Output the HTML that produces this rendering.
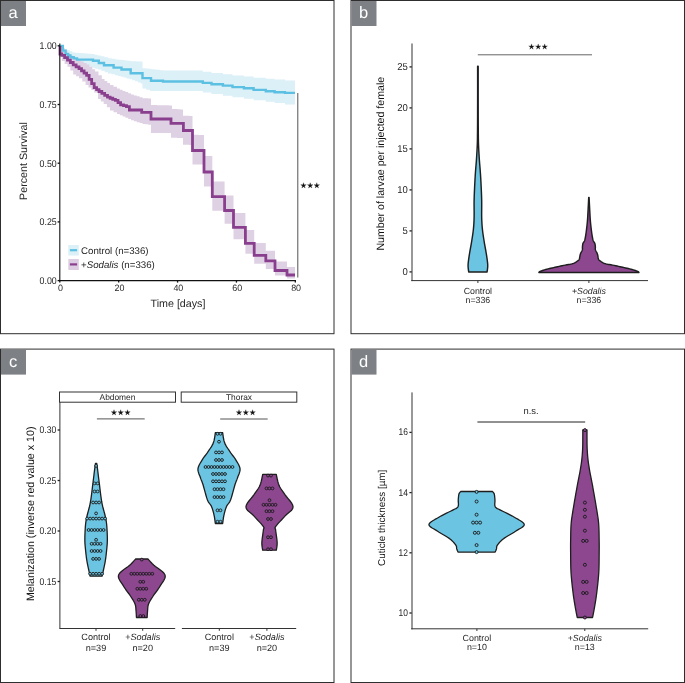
<!DOCTYPE html>
<html><head><meta charset="utf-8"><style>
html,body{margin:0;padding:0;background:#fff;}
svg{display:block;font-family:"Liberation Sans", sans-serif;will-change:transform;}
text{text-rendering:geometricPrecision;}
</style></head><body>
<svg width="685" height="683" viewBox="0 0 685 683">
<rect x="0" y="0" width="685" height="683" fill="#fff"/>
<rect x="0.5" y="0.5" width="333.5" height="333.2" fill="none" stroke="#2e2e2e" stroke-width="1"/>
<rect x="1.0" y="1.0" width="25" height="25" fill="#7d8085"/>
<text x="13.2" y="18.3" font-size="16.5" text-anchor="middle" fill="#ffffff">a</text>
<rect x="351" y="0.5" width="333.5" height="333.2" fill="none" stroke="#2e2e2e" stroke-width="1"/>
<rect x="351.5" y="1.0" width="25" height="25" fill="#7d8085"/>
<text x="363.7" y="18.3" font-size="16.5" text-anchor="middle" fill="#ffffff">b</text>
<rect x="0.5" y="349.1" width="333.5" height="333.4" fill="none" stroke="#2e2e2e" stroke-width="1"/>
<rect x="1.0" y="349.6" width="25" height="25" fill="#7d8085"/>
<text x="13.2" y="366.90000000000003" font-size="16.5" text-anchor="middle" fill="#ffffff">c</text>
<rect x="351" y="349.1" width="333.5" height="333.4" fill="none" stroke="#2e2e2e" stroke-width="1"/>
<rect x="351.5" y="349.6" width="25" height="25" fill="#7d8085"/>
<text x="363.7" y="366.90000000000003" font-size="16.5" text-anchor="middle" fill="#ffffff">d</text>
<polygon points="60.00,46.00 61.80,46.00 61.80,47.70 64.42,47.70 64.42,48.90 67.05,48.90 67.05,50.10 69.67,50.10 69.67,51.30 72.30,51.30 72.30,52.50 75.47,52.50 75.47,52.73 78.63,52.73 78.63,52.97 81.80,52.97 81.80,53.20 84.97,53.20 84.97,53.43 88.13,53.43 88.13,53.67 91.30,53.67 91.30,53.90 94.50,53.90 94.50,54.70 97.70,54.70 97.70,55.50 100.90,55.50 100.90,56.30 104.45,56.30 104.45,57.25 108.00,57.25 108.00,58.20 111.70,58.20 111.70,58.80 115.40,58.80 115.40,59.40 118.46,59.40 118.46,59.76 121.52,59.76 121.52,60.12 124.58,60.12 124.58,60.48 127.64,60.48 127.64,60.84 130.70,60.84 130.70,61.20 133.65,61.20 133.65,61.33 136.60,61.33 136.60,61.45 139.55,61.45 139.55,61.58 142.50,61.58 142.50,61.70 142.50,68.20 145.43,68.20 145.43,68.53 148.36,68.53 148.36,68.86 151.29,68.86 151.29,69.19 154.21,69.19 154.21,69.51 157.14,69.51 157.14,69.84 160.07,69.84 160.07,70.17 163.00,70.17 163.00,70.50 163.00,70.60 202.80,70.60 202.80,71.80 211.50,71.80 211.50,73.00 222.90,73.00 222.90,74.20 232.50,74.20 232.50,75.40 243.90,75.40 243.90,76.50 253.60,76.50 253.60,77.70 265.80,77.70 265.80,78.70 274.60,78.70 274.60,79.60 285.00,79.60 285.00,80.60 295.00,80.60 295.00,104.60 285.00,104.60 285.00,103.10 274.60,103.10 274.60,101.70 265.80,101.70 265.80,100.20 253.60,100.20 253.60,98.70 243.90,98.70 243.90,97.20 232.50,97.20 232.50,95.70 222.90,95.70 222.90,94.10 211.50,94.10 211.50,92.60 202.80,92.60 202.80,91.10 150.00,91.10 150.00,91.00 150.00,89.80 146.25,89.80 146.25,88.60 142.50,88.60 142.50,83.50 140.80,83.50 140.80,82.42 137.95,82.42 137.95,81.35 135.10,81.35 135.10,80.28 132.25,80.28 132.25,79.20 129.40,79.20 129.40,78.40 126.52,78.40 126.52,77.60 123.64,77.60 123.64,76.80 120.76,76.80 120.76,76.00 117.88,76.00 117.88,75.20 115.00,75.20 115.00,74.30 111.50,74.30 111.50,73.40 108.00,73.40 108.00,72.13 104.67,72.13 104.67,70.87 101.33,70.87 101.33,69.60 98.00,69.60 98.00,68.65 95.15,68.65 95.15,67.70 92.30,67.70 92.30,66.75 89.45,66.75 89.45,65.80 86.60,65.80 86.60,64.85 83.50,64.85 83.50,63.90 80.40,63.90 80.40,62.95 77.30,62.95 77.30,62.00 74.20,62.00 74.20,59.85 71.58,59.85 71.58,57.70 68.95,57.70 68.95,55.55 66.33,55.55 66.33,53.40 63.70,53.40 63.70,47.00 60.00,47.00" fill="#dcf0f8"/>
<polygon points="60.00,46.00 61.80,46.00 61.80,47.70 64.65,47.70 64.65,50.55 67.50,50.55 67.50,53.40 70.03,53.40 70.03,55.17 72.57,55.17 72.57,56.93 75.10,56.93 75.10,58.70 77.97,58.70 77.97,60.12 80.85,60.12 80.85,61.55 83.72,61.55 83.72,62.98 86.60,62.98 86.60,64.40 89.43,64.40 89.43,66.77 92.27,66.77 92.27,69.13 95.10,69.13 95.10,71.50 98.45,71.50 98.45,75.30 101.80,75.30 101.80,79.10 104.53,79.10 104.53,81.07 107.27,81.07 107.27,83.03 110.00,83.03 110.00,85.00 113.50,85.00 113.50,86.75 117.00,86.75 117.00,88.50 119.80,88.50 119.80,89.70 122.60,89.70 122.60,90.90 125.40,90.90 125.40,92.10 128.20,92.10 128.20,93.30 131.00,93.30 131.00,94.50 133.88,94.50 133.88,95.42 136.75,95.42 136.75,96.35 139.62,96.35 139.62,97.28 142.50,97.28 142.50,98.20 145.33,98.20 145.33,98.30 148.17,98.30 148.17,98.40 151.00,98.40 151.00,98.50 151.00,105.00 154.00,105.00 154.00,105.07 157.00,105.07 157.00,105.14 160.00,105.14 160.00,105.21 163.00,105.21 163.00,105.29 166.00,105.29 166.00,105.36 169.00,105.36 169.00,105.43 172.00,105.43 172.00,105.50 172.00,109.00 174.75,109.00 174.75,109.12 177.50,109.12 177.50,109.25 180.25,109.25 180.25,109.38 183.00,109.38 183.00,109.50 183.00,115.80 186.17,115.80 186.17,115.87 189.33,115.87 189.33,115.93 192.50,115.93 192.50,116.00 192.50,134.80 195.38,134.80 195.38,134.85 198.25,134.85 198.25,134.90 201.12,134.90 201.12,134.95 204.00,134.95 204.00,135.00 204.00,156.00 212.30,156.00 212.30,181.50 224.60,181.50 224.60,195.40 233.50,195.40 233.50,213.00 245.40,213.00 245.40,230.00 254.20,230.00 254.20,243.00 265.80,243.00 265.80,250.80 275.00,250.80 275.00,261.50 287.00,261.50 287.00,267.00 295.00,267.00 295.00,278.50 287.00,278.50 287.00,275.40 275.00,275.40 275.00,268.90 265.80,268.90 265.80,263.80 254.20,263.80 254.20,253.80 245.40,253.80 245.40,239.20 233.50,239.20 233.50,223.80 224.60,223.80 224.60,210.80 212.30,210.80 212.30,186.40 204.00,186.40 204.00,164.40 192.50,164.40 192.50,145.00 192.50,144.90 189.33,144.90 189.33,144.80 186.17,144.80 186.17,144.70 183.00,144.70 183.00,138.00 183.00,137.95 180.00,137.95 180.00,137.90 177.00,137.90 177.00,137.85 174.00,137.85 174.00,137.80 171.00,137.80 171.00,133.00 151.00,133.00 151.00,125.00 151.00,124.67 148.17,124.67 148.17,124.33 145.33,124.33 145.33,124.00 142.50,124.00 142.50,123.08 139.62,123.08 139.62,122.15 136.75,122.15 136.75,121.22 133.88,121.22 133.88,120.30 131.00,120.30 131.00,119.04 128.20,119.04 128.20,117.78 125.40,117.78 125.40,116.52 122.60,116.52 122.60,115.26 119.80,115.26 119.80,114.00 117.00,114.00 117.00,112.25 113.50,112.25 113.50,110.50 110.00,110.50 110.00,107.20 106.85,107.20 106.85,103.90 103.70,103.90 103.70,101.50 100.85,101.50 100.85,99.10 98.00,99.10 98.00,92.50 94.20,92.50 94.20,89.97 91.33,89.97 91.33,87.43 88.47,87.43 88.47,84.90 85.60,84.90 85.60,81.55 82.30,81.55 82.30,78.20 79.00,78.20 79.00,76.30 76.10,76.30 76.10,74.40 73.20,74.40 73.20,70.60 70.35,70.60 70.35,66.80 67.50,66.80 67.50,63.90 64.65,63.90 64.65,61.00 61.80,61.00 61.80,55.00 60.00,55.00 60.00,46.00" fill="#dccde2" fill-opacity="0.92"/>
<polyline points="60.00,46.00 62.80,46.00 62.80,50.60 65.60,50.60 65.60,53.90 68.00,53.90 68.00,55.55 70.40,55.55 70.40,57.20 73.70,57.20 73.70,58.40 77.00,58.40 77.00,59.60 91.30,59.60 93.00,59.60 93.00,59.80 93.00,60.80 98.80,60.80 98.80,63.00 104.00,63.00 104.00,65.30 113.60,65.30 113.60,67.60 121.50,67.60 121.50,69.50 130.70,69.50 130.70,73.20 142.50,73.20 142.50,78.10 151.00,78.10 151.00,80.70 163.00,80.70 163.00,81.50 202.80,81.50 202.80,82.90 211.50,82.90 211.50,84.30 222.90,84.30 222.90,85.60 232.50,85.60 232.50,87.10 243.90,87.10 243.90,88.20 253.60,88.20 253.60,89.90 265.80,89.90 265.80,91.20 274.60,91.20 274.60,92.20 285.00,92.20 285.00,92.90 295.00,92.90" fill="none" stroke="#5cc0e2" stroke-width="2.4" stroke-linejoin="miter"/>
<polyline points="60.00,46.00 60.00,54.00 61.80,54.00 61.80,55.30 64.65,55.30 64.65,57.70 67.50,57.70 67.50,60.10 70.35,60.10 70.35,62.50 73.20,62.50 73.20,64.90 76.10,64.90 76.10,66.80 79.00,66.80 79.00,68.70 81.53,68.70 81.53,70.90 84.07,70.90 84.07,73.10 86.60,73.10 86.60,75.30 89.13,75.30 89.13,79.43 91.67,79.43 91.67,83.57 94.20,83.57 94.20,87.70 96.60,87.70 96.60,89.60 99.00,89.60 99.00,91.50 101.83,91.50 101.83,93.40 104.67,93.40 104.67,95.30 107.50,95.30 107.50,97.20 110.13,97.20 110.13,98.27 112.77,98.27 112.77,99.33 115.40,99.33 115.40,100.40 118.00,100.40 118.00,102.60 120.60,102.60 120.60,104.80 123.53,104.80 123.53,105.67 126.47,105.67 126.47,106.53 129.40,106.53 129.40,107.40 129.40,110.00 141.70,110.00 141.70,112.40 151.00,112.40 151.00,119.00 171.00,119.00 171.00,123.40 183.40,123.40 183.40,130.50 192.50,130.50 192.50,150.50 204.00,150.50 204.00,172.00 212.30,172.00 212.30,196.60 224.60,196.60 224.60,210.50 233.50,210.50 233.50,227.40 245.40,227.40 245.40,243.40 254.20,243.40 254.20,255.40 265.80,255.40 265.80,260.80 275.00,260.80 275.00,270.50 287.00,270.50 287.00,275.00 295.00,275.00" fill="none" stroke="#8a3f8e" stroke-width="2.8" stroke-linejoin="miter"/>
<line x1="59.8" y1="43.6" x2="59.8" y2="281.1" stroke="#111" stroke-width="1.1"/>
<line x1="59.3" y1="280.6" x2="296" y2="280.6" stroke="#111" stroke-width="1.1"/>
<line x1="57.6" y1="45.80000000000001" x2="59.8" y2="45.80000000000001" stroke="#111" stroke-width="1.3"/>
<text transform="translate(56.70 49.10) scale(0.9000 1)" x="0" y="0" font-size="9.80" text-anchor="end" fill="#262626">1.00</text>
<line x1="57.6" y1="104.5" x2="59.8" y2="104.5" stroke="#111" stroke-width="1.3"/>
<text transform="translate(56.70 107.80) scale(0.9000 1)" x="0" y="0" font-size="9.80" text-anchor="end" fill="#262626">0.75</text>
<line x1="57.6" y1="163.20000000000002" x2="59.8" y2="163.20000000000002" stroke="#111" stroke-width="1.3"/>
<text transform="translate(56.70 166.50) scale(0.9000 1)" x="0" y="0" font-size="9.80" text-anchor="end" fill="#262626">0.50</text>
<line x1="57.6" y1="221.90000000000003" x2="59.8" y2="221.90000000000003" stroke="#111" stroke-width="1.3"/>
<text transform="translate(56.70 225.20) scale(0.9000 1)" x="0" y="0" font-size="9.80" text-anchor="end" fill="#262626">0.25</text>
<line x1="57.6" y1="280.6" x2="59.8" y2="280.6" stroke="#111" stroke-width="1.3"/>
<text transform="translate(56.70 283.90) scale(0.9000 1)" x="0" y="0" font-size="9.80" text-anchor="end" fill="#262626">0.00</text>
<line x1="59.8" y1="280.6" x2="59.8" y2="282.6" stroke="#111" stroke-width="1.3"/>
<text transform="translate(60.60 290.70) scale(0.9700 1)" x="0" y="0" font-size="9.20" text-anchor="middle" fill="#262626">0</text>
<line x1="118.67999999999999" y1="280.6" x2="118.67999999999999" y2="282.6" stroke="#111" stroke-width="1.3"/>
<text transform="translate(119.48 290.70) scale(0.9700 1)" x="0" y="0" font-size="9.20" text-anchor="middle" fill="#262626">20</text>
<line x1="177.56" y1="280.6" x2="177.56" y2="282.6" stroke="#111" stroke-width="1.3"/>
<text transform="translate(178.36 290.70) scale(0.9700 1)" x="0" y="0" font-size="9.20" text-anchor="middle" fill="#262626">40</text>
<line x1="236.44" y1="280.6" x2="236.44" y2="282.6" stroke="#111" stroke-width="1.3"/>
<text transform="translate(237.24 290.70) scale(0.9700 1)" x="0" y="0" font-size="9.20" text-anchor="middle" fill="#262626">60</text>
<line x1="295.32" y1="280.6" x2="295.32" y2="282.6" stroke="#111" stroke-width="1.3"/>
<text transform="translate(296.12 290.70) scale(0.9700 1)" x="0" y="0" font-size="9.20" text-anchor="middle" fill="#262626">80</text>
<text x="27.2" y="161" font-size="10.7" text-anchor="middle" fill="#262626" transform="rotate(-90 27.2 161)">Percent Survival</text>
<text x="178" y="307.4" font-size="10.7" text-anchor="middle" fill="#262626">Time [days]</text>
<line x1="297.8" y1="93" x2="297.8" y2="277.5" stroke="#555" stroke-width="1"/>
<polygon points="303.50,182.70 304.12,184.75 306.26,184.70 304.50,185.92 305.20,187.95 303.50,186.65 301.80,187.95 302.50,185.92 300.74,184.70 302.88,184.75" fill="#111" stroke="#111" stroke-width="0.25" stroke-linejoin="round"/>
<polygon points="310.20,182.70 310.82,184.75 312.96,184.70 311.20,185.92 311.90,187.95 310.20,186.65 308.50,187.95 309.20,185.92 307.44,184.70 309.58,184.75" fill="#111" stroke="#111" stroke-width="0.25" stroke-linejoin="round"/>
<polygon points="316.80,182.70 317.42,184.75 319.56,184.70 317.80,185.92 318.50,187.95 316.80,186.65 315.10,187.95 315.80,185.92 314.04,184.70 316.18,184.75" fill="#111" stroke="#111" stroke-width="0.25" stroke-linejoin="round"/>
<rect x="68.3" y="245" width="10.5" height="10.5" fill="#dcf0f8"/>
<line x1="69.9" y1="250.2" x2="77.1" y2="250.2" stroke="#5cc0e2" stroke-width="2.2"/>
<rect x="68.3" y="259" width="10.5" height="11" fill="#dccde2"/>
<line x1="69.9" y1="264.4" x2="77.1" y2="264.4" stroke="#8a3f8e" stroke-width="2.2"/>
<text x="81" y="253.8" font-size="9.7" text-anchor="start" fill="#262626">Control (n=336)</text>
<text x="81" y="267.6" font-size="9.7" text-anchor="start" fill="#262626">+<tspan font-style="italic">Sodalis</tspan> (n=336)</text>
<line x1="412" y1="43.5" x2="412" y2="281.1" stroke="#333333" stroke-width="1"/>
<line x1="411.3" y1="280.6" x2="648" y2="280.6" stroke="#333333" stroke-width="1"/>
<line x1="409.5" y1="271.9" x2="411.8" y2="271.9" stroke="#222" stroke-width="1.3"/>
<text transform="translate(407.90 275.10) scale(0.9500 1)" x="0" y="0" font-size="10.00" text-anchor="end" fill="#262626">0</text>
<line x1="409.5" y1="230.89999999999998" x2="411.8" y2="230.89999999999998" stroke="#222" stroke-width="1.3"/>
<text transform="translate(407.90 234.10) scale(0.9500 1)" x="0" y="0" font-size="10.00" text-anchor="end" fill="#262626">5</text>
<line x1="409.5" y1="189.89999999999998" x2="411.8" y2="189.89999999999998" stroke="#222" stroke-width="1.3"/>
<text transform="translate(407.90 193.10) scale(0.9500 1)" x="0" y="0" font-size="10.00" text-anchor="end" fill="#262626">10</text>
<line x1="409.5" y1="148.89999999999998" x2="411.8" y2="148.89999999999998" stroke="#222" stroke-width="1.3"/>
<text transform="translate(407.90 152.10) scale(0.9500 1)" x="0" y="0" font-size="10.00" text-anchor="end" fill="#262626">15</text>
<line x1="409.5" y1="107.89999999999998" x2="411.8" y2="107.89999999999998" stroke="#222" stroke-width="1.3"/>
<text transform="translate(407.90 111.10) scale(0.9500 1)" x="0" y="0" font-size="10.00" text-anchor="end" fill="#262626">20</text>
<line x1="409.5" y1="66.9" x2="411.8" y2="66.9" stroke="#222" stroke-width="1.3"/>
<text transform="translate(407.90 70.10) scale(0.9500 1)" x="0" y="0" font-size="10.00" text-anchor="end" fill="#262626">25</text>
<line x1="477.9" y1="280.6" x2="477.9" y2="283" stroke="#333333" stroke-width="1"/>
<line x1="588.9" y1="280.6" x2="588.9" y2="283" stroke="#333333" stroke-width="1"/>
<text x="384.5" y="163.7" font-size="10.6" text-anchor="middle" fill="#111" transform="rotate(-90 384.5 163.7)">Number of larvae per injected female</text>
<text x="477.9" y="293.8" font-size="8.8" text-anchor="middle" fill="#262626">Control</text>
<text x="477.9" y="303.1" font-size="8.8" text-anchor="middle" fill="#262626">n=336</text>
<text x="588.9" y="293.8" font-size="8.8" text-anchor="middle" fill="#262626">+<tspan font-style="italic">Sodalis</tspan></text>
<text x="588.9" y="303.1" font-size="8.8" text-anchor="middle" fill="#262626">n=336</text>
<line x1="477.8" y1="54.8" x2="592" y2="54.8" stroke="#666" stroke-width="1"/>
<polygon points="531.50,43.90 532.12,45.95 534.26,45.90 532.50,47.12 533.20,49.15 531.50,47.85 529.80,49.15 530.50,47.12 528.74,45.90 530.88,45.95" fill="#111" stroke="#111" stroke-width="0.25" stroke-linejoin="round"/>
<polygon points="538.20,43.90 538.82,45.95 540.96,45.90 539.20,47.12 539.90,49.15 538.20,47.85 536.50,49.15 537.20,47.12 535.44,45.90 537.58,45.95" fill="#111" stroke="#111" stroke-width="0.25" stroke-linejoin="round"/>
<polygon points="544.70,43.90 545.32,45.95 547.46,45.90 545.70,47.12 546.40,49.15 544.70,47.85 543.00,49.15 543.70,47.12 541.94,45.90 544.08,45.95" fill="#111" stroke="#111" stroke-width="0.25" stroke-linejoin="round"/>
<polygon points="478.18,66.30 478.18,70.01 478.18,75.17 478.17,81.27 478.17,87.79 478.17,94.21 478.18,100.00 478.19,105.39 478.20,110.83 478.21,116.17 478.23,121.25 478.25,125.91 478.28,130.00 478.31,133.37 478.33,136.11 478.36,138.44 478.40,140.56 478.45,142.67 478.53,145.00 478.64,147.56 478.77,150.19 478.92,152.81 479.08,155.37 479.23,157.79 479.38,160.00 479.52,161.94 479.65,163.67 479.79,165.25 479.92,166.78 480.05,168.33 480.18,170.00 480.30,171.68 480.42,173.30 480.53,174.94 480.64,176.70 480.76,178.69 480.88,181.00 481.02,183.73 481.17,186.81 481.32,190.12 481.47,193.52 481.59,196.86 481.68,200.00 481.72,203.01 481.71,206.00 481.69,208.94 481.66,211.78 481.65,214.48 481.68,217.00 481.74,219.29 481.82,221.37 481.92,223.31 482.05,225.19 482.20,227.06 482.38,229.00 482.60,231.00 482.86,233.00 483.14,235.00 483.45,237.00 483.76,239.00 484.08,241.00 484.41,243.01 484.77,245.04 485.14,247.06 485.51,249.07 485.86,251.06 486.18,253.00 486.49,254.95 486.79,256.93 487.08,258.88 487.34,260.74 487.54,262.47 487.68,264.00 487.74,265.34 487.72,266.52 487.65,267.56 487.55,268.48 487.46,269.29 487.38,270.00 487.31,270.59 487.24,271.04 487.16,271.38 487.09,271.63 487.02,271.83 486.98,272.00 468.82,272.00 468.78,271.83 468.71,271.63 468.64,271.38 468.56,271.04 468.49,270.59 468.42,270.00 468.34,269.29 468.25,268.48 468.15,267.56 468.08,266.52 468.06,265.34 468.12,264.00 468.26,262.47 468.46,260.74 468.72,258.88 469.01,256.93 469.31,254.95 469.62,253.00 469.94,251.06 470.29,249.07 470.66,247.06 471.03,245.04 471.39,243.01 471.72,241.00 472.04,239.00 472.35,237.00 472.66,235.00 472.94,233.00 473.20,231.00 473.42,229.00 473.60,227.06 473.75,225.19 473.88,223.31 473.98,221.37 474.06,219.29 474.12,217.00 474.15,214.48 474.14,211.78 474.11,208.94 474.09,206.00 474.08,203.01 474.12,200.00 474.21,196.86 474.33,193.52 474.48,190.12 474.63,186.81 474.78,183.73 474.92,181.00 475.04,178.69 475.16,176.70 475.27,174.94 475.38,173.30 475.50,171.68 475.62,170.00 475.75,168.33 475.88,166.78 476.01,165.25 476.15,163.67 476.28,161.94 476.42,160.00 476.57,157.79 476.72,155.37 476.88,152.81 477.03,150.19 477.16,147.56 477.27,145.00 477.35,142.67 477.40,140.56 477.44,138.44 477.47,136.11 477.49,133.37 477.52,130.00 477.55,125.91 477.57,121.25 477.59,116.17 477.60,110.83 477.61,105.39 477.62,100.00 477.63,94.21 477.63,87.79 477.63,81.27 477.62,75.17 477.62,70.01 477.62,66.30" fill="#6bc4e2" stroke="#1e1e1e" stroke-width="1.45" stroke-linejoin="round"/>
<polygon points="589.10,197.50 589.16,199.01 589.27,201.13 589.39,203.62 589.53,206.26 589.66,208.80 589.78,211.00 589.88,212.87 589.97,214.59 590.05,216.22 590.15,217.80 590.25,219.37 590.38,221.00 590.54,222.71 590.72,224.48 590.91,226.25 591.11,227.96 591.30,229.56 591.48,231.00 591.64,232.25 591.79,233.37 591.94,234.38 592.08,235.30 592.23,236.16 592.38,237.00 592.54,237.80 592.69,238.54 592.84,239.22 593.01,239.85 593.18,240.44 593.38,241.00 593.61,241.49 593.88,241.90 594.16,242.26 594.44,242.63 594.68,243.03 594.88,243.50 595.03,244.08 595.14,244.75 595.23,245.45 595.29,246.14 595.34,246.77 595.38,247.30 595.39,247.70 595.36,248.01 595.32,248.26 595.28,248.49 595.26,248.72 595.28,249.00 595.35,249.32 595.44,249.64 595.56,249.98 595.69,250.32 595.84,250.66 595.98,251.00 596.13,251.33 596.30,251.67 596.48,252.00 596.66,252.33 596.83,252.67 596.98,253.00 597.12,253.32 597.24,253.63 597.36,253.94 597.47,254.27 597.58,254.61 597.68,255.00 597.77,255.45 597.86,255.95 597.94,256.48 598.02,257.00 598.10,257.48 598.18,257.90 598.25,258.24 598.31,258.53 598.36,258.79 598.43,259.02 598.53,259.25 598.68,259.50 598.85,259.74 599.03,259.97 599.24,260.19 599.50,260.43 599.84,260.69 600.28,261.00 600.79,261.37 601.35,261.78 601.99,262.22 602.73,262.67 603.62,263.11 604.68,263.50 605.98,263.85 607.50,264.18 609.17,264.49 610.89,264.79 612.59,265.09 614.18,265.40 615.67,265.72 617.13,266.03 618.57,266.35 619.98,266.67 621.39,266.98 622.78,267.30 624.18,267.62 625.59,267.93 626.98,268.25 628.34,268.57 629.65,268.88 630.88,269.20 632.07,269.52 633.25,269.86 634.37,270.19 635.41,270.51 636.32,270.82 637.08,271.10 637.66,271.37 638.07,271.63 638.37,271.87 638.58,272.09 638.74,272.27 638.88,272.40 538.92,272.40 539.06,272.27 539.22,272.09 539.43,271.87 539.73,271.63 540.14,271.37 540.72,271.10 541.48,270.82 542.39,270.51 543.43,270.19 544.55,269.86 545.73,269.52 546.92,269.20 548.15,268.88 549.46,268.57 550.82,268.25 552.21,267.93 553.62,267.62 555.02,267.30 556.41,266.98 557.82,266.67 559.23,266.35 560.67,266.03 562.13,265.72 563.62,265.40 565.21,265.09 566.91,264.79 568.63,264.49 570.30,264.18 571.82,263.85 573.12,263.50 574.18,263.11 575.07,262.67 575.81,262.22 576.45,261.78 577.01,261.37 577.52,261.00 577.96,260.69 578.30,260.43 578.56,260.19 578.77,259.97 578.95,259.74 579.12,259.50 579.27,259.25 579.37,259.02 579.44,258.79 579.49,258.53 579.55,258.24 579.62,257.90 579.70,257.48 579.78,257.00 579.86,256.48 579.94,255.95 580.03,255.45 580.12,255.00 580.22,254.61 580.33,254.27 580.44,253.94 580.56,253.63 580.68,253.32 580.82,253.00 580.97,252.67 581.14,252.33 581.32,252.00 581.50,251.67 581.67,251.33 581.82,251.00 581.96,250.66 582.11,250.32 582.24,249.98 582.36,249.64 582.45,249.32 582.52,249.00 582.54,248.72 582.52,248.49 582.48,248.26 582.44,248.01 582.41,247.70 582.42,247.30 582.46,246.77 582.51,246.14 582.57,245.45 582.66,244.75 582.77,244.08 582.92,243.50 583.12,243.03 583.36,242.63 583.64,242.26 583.92,241.90 584.19,241.49 584.42,241.00 584.62,240.44 584.79,239.85 584.96,239.22 585.11,238.54 585.26,237.80 585.42,237.00 585.57,236.16 585.72,235.30 585.86,234.38 586.01,233.37 586.16,232.25 586.32,231.00 586.50,229.56 586.69,227.96 586.89,226.25 587.08,224.48 587.26,222.71 587.42,221.00 587.55,219.37 587.65,217.80 587.75,216.22 587.83,214.59 587.92,212.87 588.02,211.00 588.14,208.80 588.27,206.26 588.41,203.62 588.53,201.13 588.64,199.01 588.70,197.50" fill="#8c478f" stroke="#1e1e1e" stroke-width="1.45" stroke-linejoin="round"/>
<rect x="59.5" y="392" width="116" height="10.2" fill="#fff" stroke="#333" stroke-width="1"/>
<rect x="181.2" y="392" width="115.6" height="10.2" fill="#fff" stroke="#333" stroke-width="1"/>
<text x="117.5" y="400" font-size="8.4" text-anchor="middle" fill="#262626">Abdomen</text>
<text x="239" y="400" font-size="8.4" text-anchor="middle" fill="#262626">Thorax</text>
<line x1="59.9" y1="402.2" x2="59.9" y2="628.5" stroke="#333333" stroke-width="1"/>
<line x1="59.4" y1="628.5" x2="175.2" y2="628.5" stroke="#333333" stroke-width="1"/>
<line x1="181.9" y1="628.5" x2="296.2" y2="628.5" stroke="#333333" stroke-width="1"/>
<line x1="57.6" y1="430.0" x2="59.9" y2="430.0" stroke="#222" stroke-width="1.3"/>
<text transform="translate(56.30 433.00) scale(0.8800 1)" x="0" y="0" font-size="9.80" text-anchor="end" fill="#262626">0.30</text>
<line x1="57.6" y1="480.5" x2="59.9" y2="480.5" stroke="#222" stroke-width="1.3"/>
<text transform="translate(56.30 483.50) scale(0.8800 1)" x="0" y="0" font-size="9.80" text-anchor="end" fill="#262626">0.25</text>
<line x1="57.6" y1="531.0" x2="59.9" y2="531.0" stroke="#222" stroke-width="1.3"/>
<text transform="translate(56.30 534.00) scale(0.8800 1)" x="0" y="0" font-size="9.80" text-anchor="end" fill="#262626">0.20</text>
<line x1="57.6" y1="581.5" x2="59.9" y2="581.5" stroke="#222" stroke-width="1.3"/>
<text transform="translate(56.30 584.50) scale(0.8800 1)" x="0" y="0" font-size="9.80" text-anchor="end" fill="#262626">0.15</text>
<line x1="96" y1="628.5" x2="96" y2="630.8" stroke="#333333" stroke-width="1"/>
<line x1="142.7" y1="628.5" x2="142.7" y2="630.8" stroke="#333333" stroke-width="1"/>
<line x1="219.3" y1="628.5" x2="219.3" y2="630.8" stroke="#333333" stroke-width="1"/>
<line x1="266.9" y1="628.5" x2="266.9" y2="630.8" stroke="#333333" stroke-width="1"/>
<text x="33.6" y="513.8" font-size="10.7" text-anchor="middle" fill="#111" transform="rotate(-90 33.6 513.8)">Melanization (inverse red value x 10)</text>
<text x="96" y="640.3" font-size="9.1" text-anchor="middle" fill="#262626">Control</text>
<text x="96" y="651" font-size="9.1" text-anchor="middle" fill="#262626">n=39</text>
<text x="142.7" y="640.3" font-size="9.1" text-anchor="middle" fill="#262626">+<tspan font-style="italic">Sodalis</tspan></text>
<text x="142.7" y="651" font-size="9.1" text-anchor="middle" fill="#262626">n=20</text>
<text x="219.3" y="640.3" font-size="9.1" text-anchor="middle" fill="#262626">Control</text>
<text x="219.3" y="651" font-size="9.1" text-anchor="middle" fill="#262626">n=39</text>
<text x="266.9" y="640.3" font-size="9.1" text-anchor="middle" fill="#262626">+<tspan font-style="italic">Sodalis</tspan></text>
<text x="266.9" y="651" font-size="9.1" text-anchor="middle" fill="#262626">n=20</text>
<line x1="96.9" y1="418.9" x2="144.7" y2="418.9" stroke="#555" stroke-width="1"/>
<polygon points="114.00,409.70 114.62,411.75 116.76,411.70 115.00,412.92 115.70,414.95 114.00,413.65 112.30,414.95 113.00,412.92 111.24,411.70 113.38,411.75" fill="#111" stroke="#111" stroke-width="0.25" stroke-linejoin="round"/>
<polygon points="120.70,409.70 121.32,411.75 123.46,411.70 121.70,412.92 122.40,414.95 120.70,413.65 119.00,414.95 119.70,412.92 117.94,411.70 120.08,411.75" fill="#111" stroke="#111" stroke-width="0.25" stroke-linejoin="round"/>
<polygon points="127.50,409.70 128.12,411.75 130.26,411.70 128.50,412.92 129.20,414.95 127.50,413.65 125.80,414.95 126.50,412.92 124.74,411.70 126.88,411.75" fill="#111" stroke="#111" stroke-width="0.25" stroke-linejoin="round"/>
<line x1="220.2" y1="419" x2="267.7" y2="419" stroke="#555" stroke-width="1"/>
<polygon points="239.00,409.70 239.62,411.75 241.76,411.70 240.00,412.92 240.70,414.95 239.00,413.65 237.30,414.95 238.00,412.92 236.24,411.70 238.38,411.75" fill="#111" stroke="#111" stroke-width="0.25" stroke-linejoin="round"/>
<polygon points="245.80,409.70 246.42,411.75 248.56,411.70 246.80,412.92 247.50,414.95 245.80,413.65 244.10,414.95 244.80,412.92 243.04,411.70 245.18,411.75" fill="#111" stroke="#111" stroke-width="0.25" stroke-linejoin="round"/>
<polygon points="252.60,409.70 253.22,411.75 255.36,411.70 253.60,412.92 254.30,414.95 252.60,413.65 250.90,414.95 251.60,412.92 249.84,411.70 251.98,411.75" fill="#111" stroke="#111" stroke-width="0.25" stroke-linejoin="round"/>
<polygon points="96.75,463.50 96.84,464.13 96.96,464.94 97.10,465.94 97.26,467.11 97.45,468.47 97.65,470.00 97.87,471.72 98.10,473.63 98.35,475.72 98.62,477.98 98.92,480.41 99.25,483.00 99.61,485.89 99.99,489.11 100.40,492.50 100.83,495.89 101.28,499.11 101.75,502.00 102.26,504.58 102.83,507.00 103.42,509.25 103.99,511.33 104.51,513.25 104.95,515.00 105.30,516.50 105.58,517.74 105.81,518.81 106.00,519.81 106.18,520.84 106.35,522.00 106.51,523.25 106.65,524.52 106.77,525.81 106.87,527.15 106.96,528.54 107.05,530.00 107.13,531.57 107.21,533.26 107.27,535.00 107.32,536.74 107.35,538.43 107.35,540.00 107.32,541.40 107.28,542.67 107.21,543.88 107.11,545.11 106.99,546.46 106.85,548.00 106.68,549.79 106.47,551.78 106.24,553.88 105.99,556.00 105.73,558.07 105.45,560.00 105.14,561.83 104.81,563.62 104.45,565.36 104.09,567.02 103.76,568.58 103.45,570.00 103.17,571.33 102.89,572.58 102.62,573.73 102.39,574.73 102.20,575.57 102.05,576.20 90.15,576.20 90.00,575.57 89.81,574.73 89.57,573.73 89.31,572.58 89.03,571.33 88.75,570.00 88.44,568.58 88.11,567.02 87.75,565.36 87.39,563.62 87.06,561.83 86.75,560.00 86.47,558.07 86.21,556.00 85.96,553.88 85.73,551.78 85.52,549.79 85.35,548.00 85.21,546.46 85.09,545.11 84.99,543.88 84.92,542.67 84.88,541.40 84.85,540.00 84.85,538.43 84.88,536.74 84.92,535.00 84.99,533.26 85.07,531.57 85.15,530.00 85.24,528.54 85.33,527.15 85.43,525.81 85.55,524.52 85.69,523.25 85.85,522.00 86.02,520.84 86.20,519.81 86.39,518.81 86.62,517.74 86.90,516.50 87.25,515.00 87.69,513.25 88.21,511.33 88.78,509.25 89.37,507.00 89.94,504.58 90.45,502.00 90.92,499.11 91.37,495.89 91.80,492.50 92.21,489.11 92.59,485.89 92.95,483.00 93.28,480.41 93.58,477.98 93.85,475.72 94.10,473.63 94.33,471.72 94.55,470.00 94.75,468.47 94.94,467.11 95.10,465.94 95.24,464.94 95.36,464.13 95.45,463.50" fill="#6bc4e2" stroke="#1e1e1e" stroke-width="1.3" stroke-linejoin="round"/>
<circle cx="96.10" cy="465.9" r="1.4" fill="#6bc4e2" stroke="#1a1a1a" stroke-width="0.9"/>
<circle cx="94.60" cy="483.4" r="1.4" fill="#6bc4e2" stroke="#1a1a1a" stroke-width="0.9"/>
<circle cx="97.60" cy="483.4" r="1.4" fill="#6bc4e2" stroke="#1a1a1a" stroke-width="0.9"/>
<circle cx="94.60" cy="491.5" r="1.4" fill="#6bc4e2" stroke="#1a1a1a" stroke-width="0.9"/>
<circle cx="97.60" cy="491.5" r="1.4" fill="#6bc4e2" stroke="#1a1a1a" stroke-width="0.9"/>
<circle cx="93.10" cy="502.5" r="1.4" fill="#6bc4e2" stroke="#1a1a1a" stroke-width="0.9"/>
<circle cx="96.10" cy="502.5" r="1.4" fill="#6bc4e2" stroke="#1a1a1a" stroke-width="0.9"/>
<circle cx="99.10" cy="502.5" r="1.4" fill="#6bc4e2" stroke="#1a1a1a" stroke-width="0.9"/>
<circle cx="96.10" cy="513.4" r="1.4" fill="#6bc4e2" stroke="#1a1a1a" stroke-width="0.9"/>
<circle cx="87.10" cy="518.6" r="1.4" fill="#6bc4e2" stroke="#1a1a1a" stroke-width="0.9"/>
<circle cx="90.10" cy="518.6" r="1.4" fill="#6bc4e2" stroke="#1a1a1a" stroke-width="0.9"/>
<circle cx="93.10" cy="518.6" r="1.4" fill="#6bc4e2" stroke="#1a1a1a" stroke-width="0.9"/>
<circle cx="96.10" cy="518.6" r="1.4" fill="#6bc4e2" stroke="#1a1a1a" stroke-width="0.9"/>
<circle cx="99.10" cy="518.6" r="1.4" fill="#6bc4e2" stroke="#1a1a1a" stroke-width="0.9"/>
<circle cx="102.10" cy="518.6" r="1.4" fill="#6bc4e2" stroke="#1a1a1a" stroke-width="0.9"/>
<circle cx="105.10" cy="518.6" r="1.4" fill="#6bc4e2" stroke="#1a1a1a" stroke-width="0.9"/>
<circle cx="88.60" cy="530" r="1.4" fill="#6bc4e2" stroke="#1a1a1a" stroke-width="0.9"/>
<circle cx="91.60" cy="530" r="1.4" fill="#6bc4e2" stroke="#1a1a1a" stroke-width="0.9"/>
<circle cx="94.60" cy="530" r="1.4" fill="#6bc4e2" stroke="#1a1a1a" stroke-width="0.9"/>
<circle cx="97.60" cy="530" r="1.4" fill="#6bc4e2" stroke="#1a1a1a" stroke-width="0.9"/>
<circle cx="100.60" cy="530" r="1.4" fill="#6bc4e2" stroke="#1a1a1a" stroke-width="0.9"/>
<circle cx="103.60" cy="530" r="1.4" fill="#6bc4e2" stroke="#1a1a1a" stroke-width="0.9"/>
<circle cx="96.10" cy="539.8" r="1.4" fill="#6bc4e2" stroke="#1a1a1a" stroke-width="0.9"/>
<circle cx="91.60" cy="543.8" r="1.4" fill="#6bc4e2" stroke="#1a1a1a" stroke-width="0.9"/>
<circle cx="94.60" cy="543.8" r="1.4" fill="#6bc4e2" stroke="#1a1a1a" stroke-width="0.9"/>
<circle cx="97.60" cy="543.8" r="1.4" fill="#6bc4e2" stroke="#1a1a1a" stroke-width="0.9"/>
<circle cx="100.60" cy="543.8" r="1.4" fill="#6bc4e2" stroke="#1a1a1a" stroke-width="0.9"/>
<circle cx="91.60" cy="551" r="1.4" fill="#6bc4e2" stroke="#1a1a1a" stroke-width="0.9"/>
<circle cx="94.60" cy="551" r="1.4" fill="#6bc4e2" stroke="#1a1a1a" stroke-width="0.9"/>
<circle cx="97.60" cy="551" r="1.4" fill="#6bc4e2" stroke="#1a1a1a" stroke-width="0.9"/>
<circle cx="100.60" cy="551" r="1.4" fill="#6bc4e2" stroke="#1a1a1a" stroke-width="0.9"/>
<circle cx="93.10" cy="558.9" r="1.4" fill="#6bc4e2" stroke="#1a1a1a" stroke-width="0.9"/>
<circle cx="96.10" cy="558.9" r="1.4" fill="#6bc4e2" stroke="#1a1a1a" stroke-width="0.9"/>
<circle cx="99.10" cy="558.9" r="1.4" fill="#6bc4e2" stroke="#1a1a1a" stroke-width="0.9"/>
<circle cx="90.10" cy="573.8" r="1.4" fill="#6bc4e2" stroke="#1a1a1a" stroke-width="0.9"/>
<circle cx="93.10" cy="573.8" r="1.4" fill="#6bc4e2" stroke="#1a1a1a" stroke-width="0.9"/>
<circle cx="96.10" cy="573.8" r="1.4" fill="#6bc4e2" stroke="#1a1a1a" stroke-width="0.9"/>
<circle cx="99.10" cy="573.8" r="1.4" fill="#6bc4e2" stroke="#1a1a1a" stroke-width="0.9"/>
<circle cx="102.10" cy="573.8" r="1.4" fill="#6bc4e2" stroke="#1a1a1a" stroke-width="0.9"/>
<polygon points="147.95,559.00 148.50,559.61 149.22,560.41 150.09,561.38 151.12,562.48 152.30,563.70 153.65,565.00 155.41,566.43 157.62,568.01 160.00,569.71 162.23,571.47 164.02,573.25 165.05,575.00 165.23,576.75 164.77,578.53 163.86,580.33 162.70,582.14 161.46,583.93 160.35,585.70 159.26,587.47 158.04,589.25 156.74,591.02 155.45,592.75 154.23,594.42 153.15,596.00 152.19,597.48 151.29,598.87 150.46,600.21 149.72,601.49 149.08,602.75 148.55,604.00 148.17,605.23 147.93,606.43 147.79,607.59 147.71,608.74 147.64,609.87 147.55,611.00 147.44,612.19 147.36,613.44 147.29,614.69 147.23,615.83 147.19,616.80 147.15,617.50 136.45,617.50 136.41,616.80 136.37,615.83 136.31,614.69 136.24,613.44 136.16,612.19 136.05,611.00 135.96,609.87 135.89,608.74 135.81,607.59 135.67,606.43 135.43,605.23 135.05,604.00 134.52,602.75 133.88,601.49 133.14,600.21 132.31,598.87 131.41,597.48 130.45,596.00 129.37,594.42 128.15,592.75 126.86,591.02 125.56,589.25 124.34,587.47 123.25,585.70 122.14,583.93 120.90,582.14 119.74,580.33 118.83,578.53 118.37,576.75 118.55,575.00 119.58,573.25 121.37,571.47 123.60,569.71 125.98,568.01 128.19,566.43 129.95,565.00 131.30,563.70 132.48,562.48 133.51,561.38 134.38,560.41 135.10,559.61 135.65,559.00" fill="#8c478f" stroke="#1e1e1e" stroke-width="1.3" stroke-linejoin="round"/>
<circle cx="141.80" cy="559.6" r="1.4" fill="#8c478f" stroke="#1a1a1a" stroke-width="0.9"/>
<circle cx="131.30" cy="573.8" r="1.4" fill="#8c478f" stroke="#1a1a1a" stroke-width="0.9"/>
<circle cx="134.30" cy="573.8" r="1.4" fill="#8c478f" stroke="#1a1a1a" stroke-width="0.9"/>
<circle cx="137.30" cy="573.8" r="1.4" fill="#8c478f" stroke="#1a1a1a" stroke-width="0.9"/>
<circle cx="140.30" cy="573.8" r="1.4" fill="#8c478f" stroke="#1a1a1a" stroke-width="0.9"/>
<circle cx="143.30" cy="573.8" r="1.4" fill="#8c478f" stroke="#1a1a1a" stroke-width="0.9"/>
<circle cx="146.30" cy="573.8" r="1.4" fill="#8c478f" stroke="#1a1a1a" stroke-width="0.9"/>
<circle cx="149.30" cy="573.8" r="1.4" fill="#8c478f" stroke="#1a1a1a" stroke-width="0.9"/>
<circle cx="152.30" cy="573.8" r="1.4" fill="#8c478f" stroke="#1a1a1a" stroke-width="0.9"/>
<circle cx="140.30" cy="581.8" r="1.4" fill="#8c478f" stroke="#1a1a1a" stroke-width="0.9"/>
<circle cx="143.30" cy="581.8" r="1.4" fill="#8c478f" stroke="#1a1a1a" stroke-width="0.9"/>
<circle cx="137.30" cy="588.8" r="1.4" fill="#8c478f" stroke="#1a1a1a" stroke-width="0.9"/>
<circle cx="140.30" cy="588.8" r="1.4" fill="#8c478f" stroke="#1a1a1a" stroke-width="0.9"/>
<circle cx="143.30" cy="588.8" r="1.4" fill="#8c478f" stroke="#1a1a1a" stroke-width="0.9"/>
<circle cx="146.30" cy="588.8" r="1.4" fill="#8c478f" stroke="#1a1a1a" stroke-width="0.9"/>
<circle cx="138.80" cy="599.8" r="1.4" fill="#8c478f" stroke="#1a1a1a" stroke-width="0.9"/>
<circle cx="141.80" cy="599.8" r="1.4" fill="#8c478f" stroke="#1a1a1a" stroke-width="0.9"/>
<circle cx="144.80" cy="599.8" r="1.4" fill="#8c478f" stroke="#1a1a1a" stroke-width="0.9"/>
<circle cx="140.30" cy="616" r="1.4" fill="#8c478f" stroke="#1a1a1a" stroke-width="0.9"/>
<circle cx="143.30" cy="616" r="1.4" fill="#8c478f" stroke="#1a1a1a" stroke-width="0.9"/>
<polygon points="222.65,432.70 222.82,433.79 223.02,435.31 223.28,437.10 223.60,439.01 224.02,440.90 224.55,442.60 225.21,444.13 226.00,445.62 226.88,447.08 227.82,448.51 228.79,449.95 229.75,451.40 230.75,452.85 231.82,454.30 232.92,455.75 234.00,457.20 235.03,458.65 235.95,460.10 236.83,461.56 237.72,463.03 238.54,464.49 239.25,465.96 239.77,467.43 240.05,468.90 240.02,470.39 239.71,471.90 239.22,473.41 238.64,474.89 238.05,476.33 237.55,477.70 237.14,478.89 236.76,479.89 236.37,480.85 235.95,481.90 235.49,483.17 234.95,484.80 234.32,486.97 233.60,489.59 232.84,492.44 232.05,495.29 231.28,497.88 230.55,500.00 229.84,501.55 229.14,502.70 228.44,503.61 227.76,504.42 227.13,505.30 226.55,506.40 226.02,507.72 225.53,509.14 225.08,510.62 224.67,512.14 224.29,513.64 223.95,515.10 223.64,516.61 223.37,518.23 223.14,519.84 222.94,521.33 222.78,522.59 222.65,523.50 215.35,523.50 215.22,522.59 215.06,521.33 214.86,519.84 214.63,518.23 214.36,516.61 214.05,515.10 213.71,513.64 213.33,512.14 212.92,510.62 212.47,509.14 211.98,507.72 211.45,506.40 210.87,505.30 210.24,504.42 209.56,503.61 208.86,502.70 208.16,501.55 207.45,500.00 206.72,497.88 205.95,495.29 205.16,492.44 204.40,489.59 203.68,486.97 203.05,484.80 202.51,483.17 202.05,481.90 201.63,480.85 201.24,479.89 200.86,478.89 200.45,477.70 199.95,476.33 199.36,474.89 198.78,473.41 198.29,471.90 197.98,470.39 197.95,468.90 198.23,467.43 198.75,465.96 199.46,464.49 200.28,463.03 201.17,461.56 202.05,460.10 202.97,458.65 204.00,457.20 205.08,455.75 206.18,454.30 207.25,452.85 208.25,451.40 209.21,449.95 210.18,448.51 211.12,447.08 212.00,445.62 212.79,444.13 213.45,442.60 213.98,440.90 214.40,439.01 214.72,437.10 214.98,435.31 215.18,433.79 215.35,432.70" fill="#6bc4e2" stroke="#1e1e1e" stroke-width="1.3" stroke-linejoin="round"/>
<circle cx="217.50" cy="433.8" r="1.4" fill="#6bc4e2" stroke="#1a1a1a" stroke-width="0.9"/>
<circle cx="220.50" cy="433.8" r="1.4" fill="#6bc4e2" stroke="#1a1a1a" stroke-width="0.9"/>
<circle cx="219.00" cy="441.7" r="1.4" fill="#6bc4e2" stroke="#1a1a1a" stroke-width="0.9"/>
<circle cx="216.00" cy="452.4" r="1.4" fill="#6bc4e2" stroke="#1a1a1a" stroke-width="0.9"/>
<circle cx="219.00" cy="452.4" r="1.4" fill="#6bc4e2" stroke="#1a1a1a" stroke-width="0.9"/>
<circle cx="222.00" cy="452.4" r="1.4" fill="#6bc4e2" stroke="#1a1a1a" stroke-width="0.9"/>
<circle cx="216.00" cy="460" r="1.4" fill="#6bc4e2" stroke="#1a1a1a" stroke-width="0.9"/>
<circle cx="219.00" cy="460" r="1.4" fill="#6bc4e2" stroke="#1a1a1a" stroke-width="0.9"/>
<circle cx="222.00" cy="460" r="1.4" fill="#6bc4e2" stroke="#1a1a1a" stroke-width="0.9"/>
<circle cx="205.50" cy="467" r="1.4" fill="#6bc4e2" stroke="#1a1a1a" stroke-width="0.9"/>
<circle cx="208.50" cy="467" r="1.4" fill="#6bc4e2" stroke="#1a1a1a" stroke-width="0.9"/>
<circle cx="211.50" cy="467" r="1.4" fill="#6bc4e2" stroke="#1a1a1a" stroke-width="0.9"/>
<circle cx="214.50" cy="467" r="1.4" fill="#6bc4e2" stroke="#1a1a1a" stroke-width="0.9"/>
<circle cx="217.50" cy="467" r="1.4" fill="#6bc4e2" stroke="#1a1a1a" stroke-width="0.9"/>
<circle cx="220.50" cy="467" r="1.4" fill="#6bc4e2" stroke="#1a1a1a" stroke-width="0.9"/>
<circle cx="223.50" cy="467" r="1.4" fill="#6bc4e2" stroke="#1a1a1a" stroke-width="0.9"/>
<circle cx="226.50" cy="467" r="1.4" fill="#6bc4e2" stroke="#1a1a1a" stroke-width="0.9"/>
<circle cx="229.50" cy="467" r="1.4" fill="#6bc4e2" stroke="#1a1a1a" stroke-width="0.9"/>
<circle cx="232.50" cy="467" r="1.4" fill="#6bc4e2" stroke="#1a1a1a" stroke-width="0.9"/>
<circle cx="213.00" cy="474" r="1.4" fill="#6bc4e2" stroke="#1a1a1a" stroke-width="0.9"/>
<circle cx="216.00" cy="474" r="1.4" fill="#6bc4e2" stroke="#1a1a1a" stroke-width="0.9"/>
<circle cx="219.00" cy="474" r="1.4" fill="#6bc4e2" stroke="#1a1a1a" stroke-width="0.9"/>
<circle cx="222.00" cy="474" r="1.4" fill="#6bc4e2" stroke="#1a1a1a" stroke-width="0.9"/>
<circle cx="225.00" cy="474" r="1.4" fill="#6bc4e2" stroke="#1a1a1a" stroke-width="0.9"/>
<circle cx="213.00" cy="481.3" r="1.4" fill="#6bc4e2" stroke="#1a1a1a" stroke-width="0.9"/>
<circle cx="216.00" cy="481.3" r="1.4" fill="#6bc4e2" stroke="#1a1a1a" stroke-width="0.9"/>
<circle cx="219.00" cy="481.3" r="1.4" fill="#6bc4e2" stroke="#1a1a1a" stroke-width="0.9"/>
<circle cx="222.00" cy="481.3" r="1.4" fill="#6bc4e2" stroke="#1a1a1a" stroke-width="0.9"/>
<circle cx="225.00" cy="481.3" r="1.4" fill="#6bc4e2" stroke="#1a1a1a" stroke-width="0.9"/>
<circle cx="214.50" cy="489.2" r="1.4" fill="#6bc4e2" stroke="#1a1a1a" stroke-width="0.9"/>
<circle cx="217.50" cy="489.2" r="1.4" fill="#6bc4e2" stroke="#1a1a1a" stroke-width="0.9"/>
<circle cx="220.50" cy="489.2" r="1.4" fill="#6bc4e2" stroke="#1a1a1a" stroke-width="0.9"/>
<circle cx="223.50" cy="489.2" r="1.4" fill="#6bc4e2" stroke="#1a1a1a" stroke-width="0.9"/>
<circle cx="214.50" cy="497.1" r="1.4" fill="#6bc4e2" stroke="#1a1a1a" stroke-width="0.9"/>
<circle cx="217.50" cy="497.1" r="1.4" fill="#6bc4e2" stroke="#1a1a1a" stroke-width="0.9"/>
<circle cx="220.50" cy="497.1" r="1.4" fill="#6bc4e2" stroke="#1a1a1a" stroke-width="0.9"/>
<circle cx="223.50" cy="497.1" r="1.4" fill="#6bc4e2" stroke="#1a1a1a" stroke-width="0.9"/>
<circle cx="217.50" cy="510.3" r="1.4" fill="#6bc4e2" stroke="#1a1a1a" stroke-width="0.9"/>
<circle cx="220.50" cy="510.3" r="1.4" fill="#6bc4e2" stroke="#1a1a1a" stroke-width="0.9"/>
<circle cx="217.50" cy="521.7" r="1.4" fill="#6bc4e2" stroke="#1a1a1a" stroke-width="0.9"/>
<circle cx="220.50" cy="521.7" r="1.4" fill="#6bc4e2" stroke="#1a1a1a" stroke-width="0.9"/>
<polygon points="276.25,474.30 276.52,475.53 276.86,477.25 277.28,479.27 277.78,481.43 278.37,483.53 279.05,485.40 279.83,487.01 280.71,488.49 281.67,489.92 282.71,491.37 283.80,492.91 284.95,494.60 286.36,496.51 288.09,498.59 289.88,500.75 291.47,502.91 292.61,504.99 293.05,506.90 292.65,508.60 291.59,510.16 290.08,511.62 288.33,513.07 286.55,514.54 284.95,516.10 283.38,517.83 281.63,519.69 279.85,521.59 278.18,523.41 276.77,525.05 275.75,526.40 275.19,527.31 274.98,527.83 275.03,528.17 275.23,528.54 275.47,529.15 275.65,530.20 275.83,531.81 276.12,533.84 276.44,536.11 276.76,538.43 277.01,540.62 277.15,542.50 277.14,544.14 277.02,545.69 276.84,547.12 276.64,548.37 276.46,549.42 276.35,550.20 262.65,550.20 262.54,549.42 262.36,548.37 262.16,547.12 261.98,545.69 261.86,544.14 261.85,542.50 261.99,540.62 262.24,538.43 262.56,536.11 262.88,533.84 263.17,531.81 263.35,530.20 263.53,529.15 263.77,528.54 263.97,528.17 264.02,527.83 263.81,527.31 263.25,526.40 262.23,525.05 260.82,523.41 259.15,521.59 257.37,519.69 255.62,517.83 254.05,516.10 252.45,514.54 250.67,513.07 248.92,511.62 247.41,510.16 246.35,508.60 245.95,506.90 246.39,504.99 247.53,502.91 249.12,500.75 250.91,498.59 252.64,496.51 254.05,494.60 255.20,492.91 256.29,491.37 257.33,489.92 258.29,488.49 259.17,487.01 259.95,485.40 260.63,483.53 261.22,481.43 261.72,479.27 262.14,477.25 262.48,475.53 262.75,474.30" fill="#8c478f" stroke="#1e1e1e" stroke-width="1.3" stroke-linejoin="round"/>
<circle cx="268.00" cy="475.6" r="1.4" fill="#8c478f" stroke="#1a1a1a" stroke-width="0.9"/>
<circle cx="271.00" cy="475.6" r="1.4" fill="#8c478f" stroke="#1a1a1a" stroke-width="0.9"/>
<circle cx="266.50" cy="488.4" r="1.4" fill="#8c478f" stroke="#1a1a1a" stroke-width="0.9"/>
<circle cx="269.50" cy="488.4" r="1.4" fill="#8c478f" stroke="#1a1a1a" stroke-width="0.9"/>
<circle cx="272.50" cy="488.4" r="1.4" fill="#8c478f" stroke="#1a1a1a" stroke-width="0.9"/>
<circle cx="269.50" cy="500.2" r="1.4" fill="#8c478f" stroke="#1a1a1a" stroke-width="0.9"/>
<circle cx="263.50" cy="504.8" r="1.4" fill="#8c478f" stroke="#1a1a1a" stroke-width="0.9"/>
<circle cx="266.50" cy="504.8" r="1.4" fill="#8c478f" stroke="#1a1a1a" stroke-width="0.9"/>
<circle cx="269.50" cy="504.8" r="1.4" fill="#8c478f" stroke="#1a1a1a" stroke-width="0.9"/>
<circle cx="272.50" cy="504.8" r="1.4" fill="#8c478f" stroke="#1a1a1a" stroke-width="0.9"/>
<circle cx="275.50" cy="504.8" r="1.4" fill="#8c478f" stroke="#1a1a1a" stroke-width="0.9"/>
<circle cx="266.50" cy="511.2" r="1.4" fill="#8c478f" stroke="#1a1a1a" stroke-width="0.9"/>
<circle cx="269.50" cy="511.2" r="1.4" fill="#8c478f" stroke="#1a1a1a" stroke-width="0.9"/>
<circle cx="272.50" cy="511.2" r="1.4" fill="#8c478f" stroke="#1a1a1a" stroke-width="0.9"/>
<circle cx="268.00" cy="519" r="1.4" fill="#8c478f" stroke="#1a1a1a" stroke-width="0.9"/>
<circle cx="271.00" cy="519" r="1.4" fill="#8c478f" stroke="#1a1a1a" stroke-width="0.9"/>
<circle cx="268.00" cy="537.2" r="1.4" fill="#8c478f" stroke="#1a1a1a" stroke-width="0.9"/>
<circle cx="271.00" cy="537.2" r="1.4" fill="#8c478f" stroke="#1a1a1a" stroke-width="0.9"/>
<circle cx="268.00" cy="549.2" r="1.4" fill="#8c478f" stroke="#1a1a1a" stroke-width="0.9"/>
<circle cx="271.00" cy="549.2" r="1.4" fill="#8c478f" stroke="#1a1a1a" stroke-width="0.9"/>
<line x1="412" y1="392.4" x2="412" y2="629.3" stroke="#333333" stroke-width="1"/>
<line x1="411.2" y1="628.8" x2="648.2" y2="628.8" stroke="#333333" stroke-width="1"/>
<line x1="409.4" y1="613.0" x2="411.7" y2="613.0" stroke="#222" stroke-width="1.3"/>
<text transform="translate(408.00 616.00) scale(0.8700 1)" x="0" y="0" font-size="9.70" text-anchor="end" fill="#262626">10</text>
<line x1="409.4" y1="552.8" x2="411.7" y2="552.8" stroke="#222" stroke-width="1.3"/>
<text transform="translate(408.00 555.80) scale(0.8700 1)" x="0" y="0" font-size="9.70" text-anchor="end" fill="#262626">12</text>
<line x1="409.4" y1="492.6" x2="411.7" y2="492.6" stroke="#222" stroke-width="1.3"/>
<text transform="translate(408.00 495.60) scale(0.8700 1)" x="0" y="0" font-size="9.70" text-anchor="end" fill="#262626">14</text>
<line x1="409.4" y1="432.4" x2="411.7" y2="432.4" stroke="#222" stroke-width="1.3"/>
<text transform="translate(408.00 435.40) scale(0.8700 1)" x="0" y="0" font-size="9.70" text-anchor="end" fill="#262626">16</text>
<line x1="476.9" y1="628.8" x2="476.9" y2="631" stroke="#333333" stroke-width="1"/>
<line x1="584.8" y1="628.8" x2="584.8" y2="631" stroke="#333333" stroke-width="1"/>
<text x="385.3" y="517.8" font-size="9.9" text-anchor="middle" fill="#111" transform="rotate(-90 385.3 517.8)">Cuticle thickness [µm]</text>
<text x="476.9" y="640.6" font-size="8.9" text-anchor="middle" fill="#262626">Control</text>
<text x="476.9" y="650.2" font-size="8.9" text-anchor="middle" fill="#262626">n=10</text>
<text x="584.8" y="640.6" font-size="8.9" text-anchor="middle" fill="#262626">+<tspan font-style="italic">Sodalis</tspan></text>
<text x="584.8" y="650.2" font-size="8.9" text-anchor="middle" fill="#262626">n=13</text>
<line x1="477.4" y1="422" x2="585.2" y2="422" stroke="#222" stroke-width="1"/>
<text x="531" y="413.8" font-size="9.4" text-anchor="middle" fill="#262626">n.s.</text>
<polygon points="492.45,491.50 492.66,491.73 492.96,492.02 493.31,492.38 493.66,492.81 493.99,493.35 494.25,494.00 494.43,494.79 494.58,495.71 494.69,496.73 494.79,497.81 494.87,498.91 494.95,500.00 494.96,501.13 494.88,502.33 494.79,503.56 494.76,504.75 494.89,505.85 495.25,506.80 495.80,507.54 496.48,508.09 497.31,508.56 498.31,509.02 499.52,509.57 500.95,510.30 502.73,511.22 504.84,512.27 507.16,513.41 509.55,514.60 511.86,515.81 513.95,517.00 516.04,518.20 518.27,519.44 520.43,520.71 522.29,521.97 523.64,523.20 524.25,524.40 523.99,525.54 523.00,526.63 521.49,527.70 519.68,528.77 517.76,529.86 515.95,531.00 514.10,532.20 512.02,533.44 509.84,534.70 507.68,535.96 505.67,537.20 503.95,538.40 502.48,539.58 501.17,540.76 500.01,541.91 499.01,543.02 498.15,544.06 497.45,545.00 496.97,545.83 496.72,546.56 496.62,547.22 496.60,547.83 496.57,548.42 496.45,549.00 496.24,549.60 495.99,550.21 495.74,550.80 495.50,551.33 495.29,551.77 495.15,552.10 458.05,552.10 457.91,551.77 457.70,551.33 457.46,550.80 457.21,550.21 456.96,549.60 456.75,549.00 456.63,548.42 456.60,547.83 456.58,547.22 456.48,546.56 456.23,545.83 455.75,545.00 455.05,544.06 454.19,543.02 453.19,541.91 452.03,540.76 450.72,539.58 449.25,538.40 447.53,537.20 445.52,535.96 443.36,534.70 441.18,533.44 439.10,532.20 437.25,531.00 435.44,529.86 433.52,528.77 431.71,527.70 430.20,526.63 429.21,525.54 428.95,524.40 429.56,523.20 430.91,521.97 432.77,520.71 434.93,519.44 437.16,518.20 439.25,517.00 441.34,515.81 443.65,514.60 446.04,513.41 448.36,512.27 450.47,511.22 452.25,510.30 453.68,509.57 454.89,509.02 455.89,508.56 456.72,508.09 457.40,507.54 457.95,506.80 458.31,505.85 458.44,504.75 458.41,503.56 458.32,502.33 458.24,501.13 458.25,500.00 458.33,498.91 458.41,497.81 458.51,496.73 458.62,495.71 458.77,494.79 458.95,494.00 459.21,493.35 459.54,492.81 459.89,492.38 460.24,492.02 460.54,491.73 460.75,491.50" fill="#6bc4e2" stroke="#1e1e1e" stroke-width="1.3" stroke-linejoin="round"/>
<circle cx="476.60" cy="491.9" r="1.5" fill="#6bc4e2" stroke="#1a1a1a" stroke-width="0.9"/>
<circle cx="476.60" cy="501.5" r="1.5" fill="#6bc4e2" stroke="#1a1a1a" stroke-width="0.9"/>
<circle cx="476.60" cy="514.7" r="1.5" fill="#6bc4e2" stroke="#1a1a1a" stroke-width="0.9"/>
<circle cx="473.10" cy="522.6" r="1.5" fill="#6bc4e2" stroke="#1a1a1a" stroke-width="0.9"/>
<circle cx="476.60" cy="522.6" r="1.5" fill="#6bc4e2" stroke="#1a1a1a" stroke-width="0.9"/>
<circle cx="480.10" cy="522.6" r="1.5" fill="#6bc4e2" stroke="#1a1a1a" stroke-width="0.9"/>
<circle cx="474.85" cy="532.8" r="1.5" fill="#6bc4e2" stroke="#1a1a1a" stroke-width="0.9"/>
<circle cx="478.35" cy="532.8" r="1.5" fill="#6bc4e2" stroke="#1a1a1a" stroke-width="0.9"/>
<circle cx="476.60" cy="545.1" r="1.5" fill="#6bc4e2" stroke="#1a1a1a" stroke-width="0.9"/>
<circle cx="476.60" cy="552.1" r="1.5" fill="#6bc4e2" stroke="#1a1a1a" stroke-width="0.9"/>
<polygon points="587.00,429.80 587.00,430.50 586.99,431.41 586.99,432.52 586.99,433.79 586.99,435.19 587.00,436.70 587.01,438.37 587.01,440.24 587.02,442.25 587.04,444.32 587.08,446.39 587.15,448.40 587.25,450.35 587.36,452.30 587.50,454.25 587.66,456.20 587.84,458.15 588.05,460.10 588.29,462.05 588.56,464.00 588.86,465.95 589.18,467.90 589.51,469.85 589.85,471.80 590.21,473.75 590.59,475.70 590.98,477.64 591.38,479.59 591.77,481.54 592.15,483.50 592.52,485.49 592.88,487.52 593.24,489.55 593.59,491.55 593.93,493.48 594.25,495.30 594.53,496.90 594.78,498.27 595.01,499.57 595.25,500.96 595.53,502.58 595.85,504.60 596.26,507.09 596.75,509.94 597.26,513.04 597.76,516.24 598.21,519.44 598.55,522.50 598.78,525.47 598.93,528.46 599.02,531.43 599.07,534.37 599.11,537.23 599.15,540.00 599.19,542.61 599.21,545.07 599.21,547.47 599.20,549.87 599.18,552.36 599.15,555.00 599.12,557.81 599.11,560.71 599.07,563.71 599.02,566.76 598.91,569.87 598.75,573.00 598.51,576.26 598.20,579.68 597.85,583.15 597.48,586.55 597.10,589.77 596.75,592.70 596.42,595.29 596.09,597.64 595.76,599.81 595.43,601.86 595.09,603.87 594.75,605.90 594.37,608.06 593.95,610.31 593.52,612.52 593.13,614.55 592.79,616.26 592.55,617.50 577.25,617.50 577.01,616.26 576.67,614.55 576.27,612.52 575.85,610.31 575.43,608.06 575.05,605.90 574.71,603.87 574.37,601.86 574.04,599.81 573.71,597.64 573.38,595.29 573.05,592.70 572.70,589.77 572.32,586.55 571.95,583.15 571.60,579.68 571.29,576.26 571.05,573.00 570.89,569.87 570.78,566.76 570.73,563.71 570.69,560.71 570.67,557.81 570.65,555.00 570.62,552.36 570.60,549.87 570.59,547.47 570.59,545.07 570.61,542.61 570.65,540.00 570.69,537.23 570.73,534.37 570.78,531.43 570.87,528.46 571.02,525.47 571.25,522.50 571.59,519.44 572.04,516.24 572.54,513.04 573.05,509.94 573.54,507.09 573.95,504.60 574.27,502.58 574.55,500.96 574.79,499.57 575.02,498.27 575.27,496.90 575.55,495.30 575.87,493.48 576.21,491.55 576.56,489.55 576.92,487.52 577.28,485.49 577.65,483.50 578.03,481.54 578.42,479.59 578.82,477.64 579.21,475.70 579.59,473.75 579.95,471.80 580.29,469.85 580.62,467.90 580.94,465.95 581.24,464.00 581.51,462.05 581.75,460.10 581.96,458.15 582.14,456.20 582.30,454.25 582.44,452.30 582.55,450.35 582.65,448.40 582.72,446.39 582.76,444.32 582.78,442.25 582.79,440.24 582.79,438.37 582.80,436.70 582.81,435.19 582.81,433.79 582.81,432.52 582.81,431.41 582.80,430.50 582.80,429.80" fill="#8c478f" stroke="#1e1e1e" stroke-width="1.3" stroke-linejoin="round"/>
<circle cx="584.90" cy="430.1" r="1.5" fill="#8c478f" stroke="#1a1a1a" stroke-width="0.9"/>
<circle cx="584.90" cy="502.6" r="1.5" fill="#8c478f" stroke="#1a1a1a" stroke-width="0.9"/>
<circle cx="584.90" cy="509.8" r="1.5" fill="#8c478f" stroke="#1a1a1a" stroke-width="0.9"/>
<circle cx="584.90" cy="516.7" r="1.5" fill="#8c478f" stroke="#1a1a1a" stroke-width="0.9"/>
<circle cx="584.90" cy="530.7" r="1.5" fill="#8c478f" stroke="#1a1a1a" stroke-width="0.9"/>
<circle cx="583.15" cy="540.9" r="1.5" fill="#8c478f" stroke="#1a1a1a" stroke-width="0.9"/>
<circle cx="586.65" cy="540.9" r="1.5" fill="#8c478f" stroke="#1a1a1a" stroke-width="0.9"/>
<circle cx="584.90" cy="564.8" r="1.5" fill="#8c478f" stroke="#1a1a1a" stroke-width="0.9"/>
<circle cx="583.15" cy="581.9" r="1.5" fill="#8c478f" stroke="#1a1a1a" stroke-width="0.9"/>
<circle cx="586.65" cy="581.9" r="1.5" fill="#8c478f" stroke="#1a1a1a" stroke-width="0.9"/>
<circle cx="583.15" cy="593" r="1.5" fill="#8c478f" stroke="#1a1a1a" stroke-width="0.9"/>
<circle cx="586.65" cy="593" r="1.5" fill="#8c478f" stroke="#1a1a1a" stroke-width="0.9"/>
<circle cx="584.90" cy="617.5" r="1.5" fill="#8c478f" stroke="#1a1a1a" stroke-width="0.9"/>
</svg></body></html>
